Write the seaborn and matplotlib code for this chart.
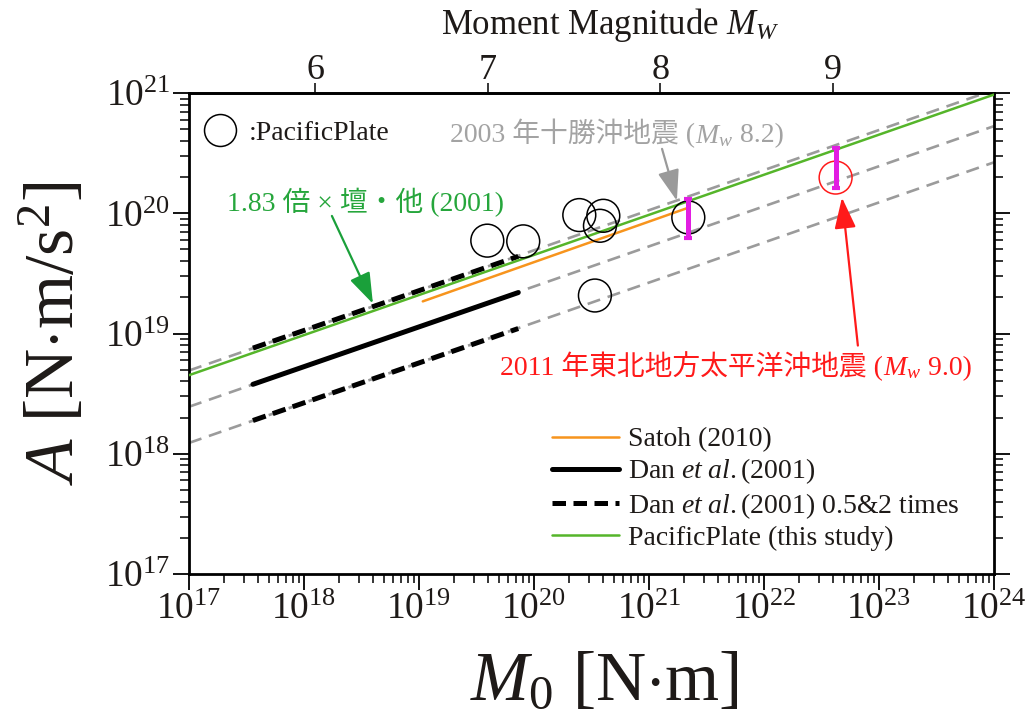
import numpy as np
import matplotlib
matplotlib.use("Agg")
import matplotlib.pyplot as plt
from matplotlib.lines import Line2D
from matplotlib.offsetbox import TextArea, HPacker, AnnotationBbox
from matplotlib.ticker import NullLocator, FixedLocator, FormatStrFormatter
import seaborn as sns

# ---- scaling relations: endpoints of each line, M0 [N·m] and A [N·m/s^2] ----
full_m0 = [1e17, 1e24]
dan_ext_mid = [2.46e18, 5.30e20]      # Dan et al. (2001) extrapolated
dan_ext_hi = [4.92e18, 1.06e21]       # x2
dan_ext_lo = [1.23e18, 2.65e20]       # x0.5

dan_m0 = [3.6e17, 7.3e19]             # range of Dan et al. (2001)
dan_a = [3.78e18, 2.19e19]
dan_a_x2 = [7.56e18, 4.38e19]
dan_a_x05 = [1.89e18, 1.10e19]

satoh_m0 = [1.08e19, 2.13e21]
satoh_a = [1.85e19, 1.10e20]

pacific_line_a = [4.50e18, 9.70e20]   # 1.83 x Dan et al. (2001)

# ---- Pacific plate events ----
pac_m0 = [3.93e19, 8.07e19, 2.48e20, 4.01e20, 3.75e20, 3.39e20, 2.20e21]
pac_a = [5.92e19, 5.84e19, 9.66e19, 9.53e19, 7.87e19, 2.07e19, 9.23e19]

tohoku_m0 = [4.20e22]
tohoku_a = [1.98e20]

# estimated A ranges for 2003 Tokachi-oki and 2011 Tohoku
range_m0 = [2.20e21, 4.20e22]
range_lo = [6.26e19, 1.61e20]
range_hi = [1.32e20, 3.52e20]

mw_ticks = [6, 7, 8, 9]

# ---- style ----
sns.set_theme(style="ticks")
SERIF = "Liberation Serif"
CJK = "Noto Sans CJK JP"
plt.rcParams["font.family"] = [SERIF, CJK]
plt.rcParams["mathtext.fontset"] = "custom"
plt.rcParams["mathtext.rm"] = SERIF
plt.rcParams["mathtext.it"] = SERIF + ":italic"
plt.rcParams["mathtext.bf"] = SERIF + ":bold"
plt.rcParams["axes.linewidth"] = 2.0

INK = "#1e1a18"
GREY = "#9b9b9b"
ORANGE = "#f7941d"
GREEN_LINE = "#55b52a"
GREEN_TEXT = "#26a63c"
RED = "#ff1a1a"
MAGENTA = "#e21de2"

fig = plt.figure(figsize=(10.32, 7.16), dpi=100)
ax = fig.add_axes([0.1831, 0.1983, 0.7800, 0.6718])
ax.set_xscale("log")
ax.set_yscale("log")
ax.set_xlim(1e17, 1e24)
ax.set_ylim(1e17, 1e21)

grey_dash = (0, (5.0, 3.0))
black_dash = (0, (2.7, 1.5))

# extrapolated Dan et al. relations (grey dashed)
for a in (dan_ext_hi, dan_ext_mid, dan_ext_lo):
    sns.lineplot(x=full_m0, y=a, ax=ax, color=GREY, linewidth=1.9,
                 linestyle=grey_dash, zorder=1)

# Dan et al. (2001) within its range
sns.lineplot(x=dan_m0, y=dan_a_x2, ax=ax, color="black", linewidth=3.6,
             linestyle=black_dash, zorder=2)
sns.lineplot(x=dan_m0, y=dan_a_x05, ax=ax, color="black", linewidth=3.6,
             linestyle=black_dash, zorder=2)
sns.lineplot(x=dan_m0, y=dan_a, ax=ax, color="black", linewidth=3.6, zorder=2)

# Satoh (2010)
sns.lineplot(x=satoh_m0, y=satoh_a, ax=ax, color=ORANGE, linewidth=1.8, zorder=3)

# this study
sns.lineplot(x=full_m0, y=pacific_line_a, ax=ax, color=GREEN_LINE,
             linewidth=1.8, zorder=3)

# events
sns.scatterplot(x=pac_m0, y=pac_a, ax=ax, s=560, marker="o",
                facecolor="none", edgecolor="black", linewidth=1.1, zorder=4)
ax.collections[-1].set_facecolor("none")
sns.scatterplot(x=tohoku_m0, y=tohoku_a, ax=ax, s=560, marker="o",
                facecolor="none", edgecolor=RED, linewidth=1.1, zorder=4)
ax.collections[-1].set_facecolor("none")

# A ranges
lo = np.array(range_lo)
hi = np.array(range_hi)
ax.errorbar(range_m0, lo, yerr=[np.zeros_like(lo), hi - lo], fmt="none",
            ecolor=MAGENTA, elinewidth=3.6, capsize=2.6, capthick=3.0, zorder=5)

# ---- axes decoration ----
ax.tick_params(axis="both", which="major", direction="out", length=11.5,
               width=1.3, labelsize=27, pad=2, colors="black", labelcolor=INK)
ax.tick_params(axis="both", which="minor", direction="out", length=6.5,
               width=1.1, colors="black")
ax.tick_params(axis="y", which="both", right=True, left=True)
ax.tick_params(axis="x", which="both", top=False, bottom=True)
ax.set_xlabel(r"$M_0$ [N$\cdot$m]", fontsize=50, color=INK, family=SERIF)
ax.set_ylabel(r"$A$ [N$\cdot$m/s$^2$]", fontsize=50, color=INK, family=SERIF)
ax.xaxis.set_label_coords(0.516, -0.160)
ax.yaxis.set_label_coords(-0.124, 0.50)
ax.grid(False)
for sp in ax.spines.values():
    sp.set_color("black")
    sp.set_linewidth(2.0)

# moment magnitude axis on top
def m0_to_mw(m0):
    m0 = np.clip(np.asarray(m0, dtype=float), 1e-300, None)
    return (np.log10(m0) - 9.1) / 1.5

def mw_to_m0(mw):
    return 10.0 ** (1.5 * np.asarray(mw, dtype=float) + 9.1)

sec = ax.secondary_xaxis("top", functions=(m0_to_mw, mw_to_m0))
sec.xaxis.set_major_locator(FixedLocator(mw_ticks))
sec.xaxis.set_major_formatter(FormatStrFormatter("%d"))
sec.xaxis.set_minor_locator(NullLocator())
sec.tick_params(axis="x", which="major", direction="out", length=7,
                width=1.1, labelsize=26, pad=-3, colors="black", labelcolor=INK)
sec.set_xlabel(r"Moment Magnitude $M_W$", fontsize=25, labelpad=15,
               color=INK, family=SERIF)
sec.xaxis.label.set_x(0.523)
sec.spines["top"].set_linewidth(2.0)

# ---- annotations ----
def rich_text(parts, color, size):
    areas = [TextArea(t, textprops=dict(color=color, fontsize=size,
                                        family=[SERIF, CJK]))
             for t in parts]
    return HPacker(children=areas, align="baseline", pad=0, sep=0)

def place(box, xy):
    ab = AnnotationBbox(box, xy, xycoords="data", box_alignment=(0, 0.5),
                        frameon=False, pad=0, zorder=6)
    ax.add_artist(ab)

place(rich_text(["2003 年十勝沖地震 (", r"$M_w$", " 8.2)"], "#a3a3a3", 20),
      (1.86e19, 4.57e20))
place(rich_text(["1.83 倍 × 壇・他 (2001)"], GREEN_TEXT, 20),
      (2.14e17, 1.22e20))
place(rich_text(["2011 年東北地方太平洋沖地震 (", r"$M_w$", " 9.0)"], RED, 20),
      (5.06e19, 5.32e18))

def arrow(tip, tail, color):
    ax.annotate("", xy=tip, xytext=tail, xycoords="data", textcoords="data",
                arrowprops=dict(arrowstyle="-|>,head_length=0.95,head_width=0.33",
                                mutation_scale=20, color=color, lw=1.6,
                                shrinkA=0, shrinkB=0), zorder=6)

arrow((1.75e21, 1.27e20), (1.30e21, 3.43e20), "#9a9a9a")
arrow((3.98e18, 1.77e19), (1.75e18, 9.50e19), "#1aa03a")
arrow((4.77e22, 1.35e20), (6.56e22, 7.94e18), RED)

# ---- legends ----
circle_handle = Line2D([], [], marker="o", markersize=23, markerfacecolor="none",
                       markeredgecolor="black", markeredgewidth=1.1, linestyle="none")
leg1 = ax.legend([circle_handle], [":PacificPlate"], loc="center left",
                 bbox_to_anchor=(0.015, 0.917), frameon=False, fontsize=20,
                 handletextpad=0.3, borderpad=0, borderaxespad=0, handlelength=1.4,
                 labelcolor=INK)
ax.add_artist(leg1)

handles = [
    Line2D([], [], color=ORANGE, linewidth=1.8),
    Line2D([], [], color="black", linewidth=3.6),
    Line2D([], [], color="black", linewidth=3.6, linestyle=black_dash),
    Line2D([], [], color=GREEN_LINE, linewidth=1.8),
]
labels = ["Satoh (2010)", r"Dan $et\ al.$(2001)",
          r"Dan $et\ al.$(2001) 0.5&2 times", "PacificPlate (this study)"]
ax.legend(handles, labels, loc="upper left", bbox_to_anchor=(0.451, 0.306),
          frameon=False, fontsize=20, handlelength=2.4, handletextpad=0.35,
          labelspacing=0.16, borderpad=0, borderaxespad=0, labelcolor=INK)

fig.savefig("out.png", dpi=100)
